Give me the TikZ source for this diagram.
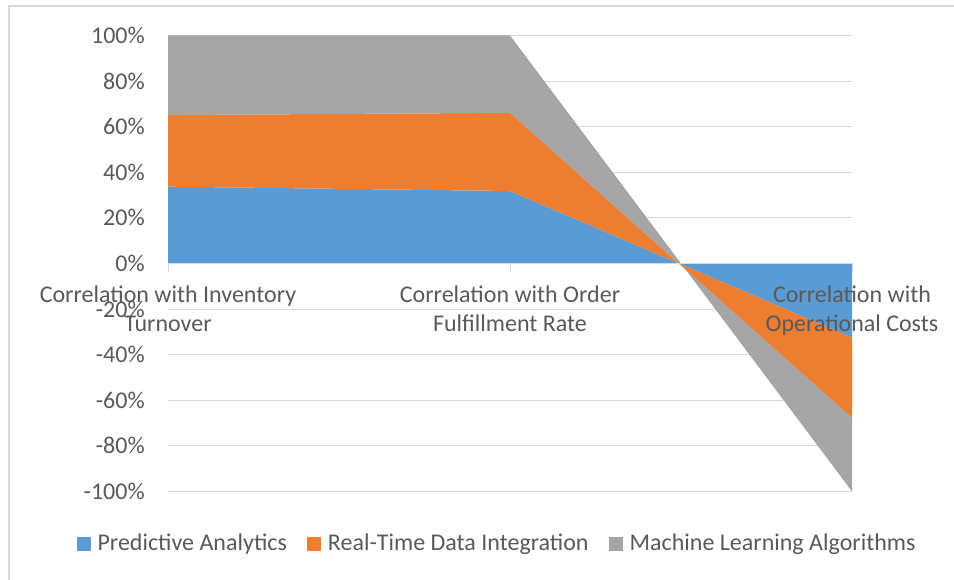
\documentclass[tikz,border=0pt]{standalone}
\usepackage{fontspec}
\setmainfont{Carlito}
\usetikzlibrary{positioning}
\definecolor{predblue}{HTML}{5B9BD5}
\definecolor{rtorange}{HTML}{ED7D31}
\definecolor{mlgray}{HTML}{A5A5A5}
\definecolor{gridgray}{HTML}{D9D9D9}
\definecolor{labelgray}{HTML}{595959}

\begin{document}
\begin{tikzpicture}[x=0.75pt, y=-0.75pt, font=\fontsize{18}{21.75}\selectfont, text=labelgray,
  legendsq/.style={minimum size=10.5pt, inner sep=0pt},
  legendtxt/.style={inner sep=0pt, anchor=west},
  catlabel/.style={align=center, inner sep=0pt, anchor=north},
  ticklabel/.style={anchor=east, inner sep=0pt}]
\useasboundingbox (0,0) rectangle (954,580);
% chart frame
\draw[gridgray, line width=1.5pt] (8.5,700) -- (8.5,6.5) -- (1000,6.5);
% plot area: x in px, y in percent
\begin{scope}[shift={(0,263.5)}, y=1.71pt]
% gridlines and value labels
\foreach \v [count=\i] in {-100,-80,...,100} {
  \draw[gridgray, line width=0.75pt] (168,\v) -- (852,\v);
  \node[ticklabel] (val\i) at (145,\v) {\v\%};
}
% stacked areas
\fill[predblue] (168,0) -- (168,33.7) -- (510,31.8) -- (852,-32.5) -- (852,0) -- cycle;
\fill[rtorange] (168,33.7) -- (168,65.1) -- (510,66.1) -- (852,-67.8) -- (852,-32.5) -- (510,31.8) -- cycle;
\fill[mlgray] (168,65.1) -- (168,100) -- (510,100) -- (852,-100) -- (852,-67.8) -- (510,66.1) -- cycle;
% category axis
\draw[gridgray, line width=0.75pt] (168,0) -- (852,0);
\foreach \x in {168,510,852} \draw[gridgray, line width=0.75pt] (\x,0) -- (\x,-3.8);
\end{scope}
% category labels
\node[catlabel] (cat1) at (168,286) {Correlation with Inventory\\Turnover};
\node[catlabel] (cat2) at (510,286) {Correlation with Order\\Fulfillment Rate};
\node[catlabel] (cat3) at (852,286) {Correlation with\\Operational Costs};
% legend
\node[legendsq, fill=predblue] (sq1) at (84,544) {};
\node[legendtxt, right=4.5pt of sq1] (leg1) {Predictive Analytics};
\node[legendsq, fill=rtorange, right=15pt of leg1] (sq2) {};
\node[legendtxt, right=4.5pt of sq2] (leg2) {Real-Time Data Integration};
\node[legendsq, fill=mlgray, right=15pt of leg2] (sq3) {};
\node[legendtxt, right=4.5pt of sq3] (leg3) {Machine Learning Algorithms};
\end{tikzpicture}
\end{document}
